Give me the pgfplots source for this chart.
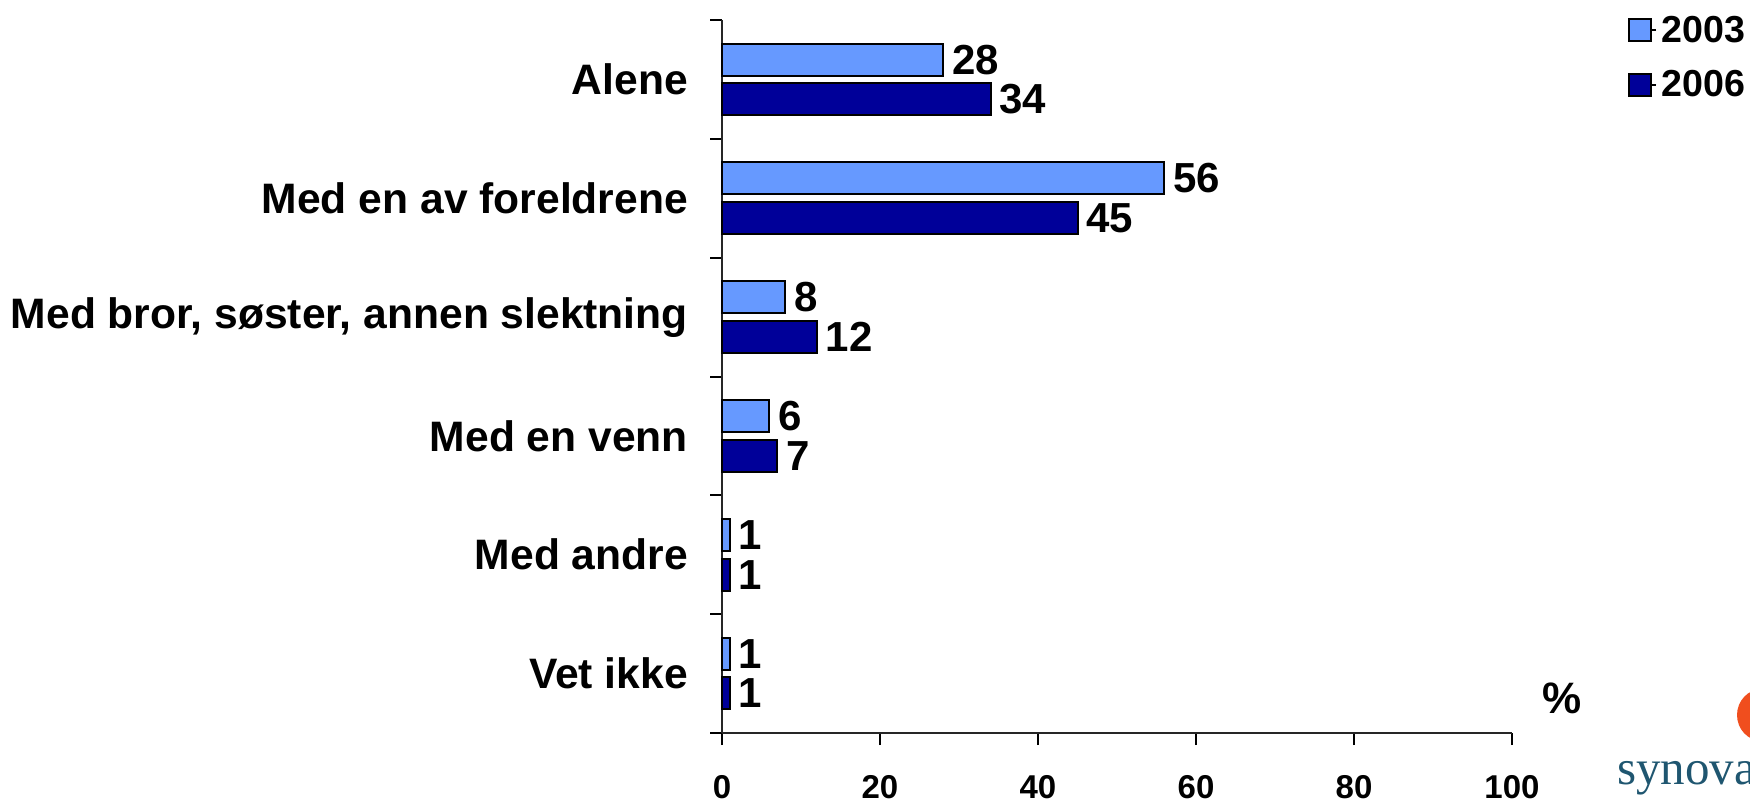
\documentclass[border=0pt]{standalone}
\usepackage{fontspec}
\setmainfont{Liberation Sans}
\newfontfamily\seriffont{Liberation Serif}
\usepackage{pgfplots}
\pgfplotsset{compat=1.18}
\definecolor{c03}{HTML}{6699FF}
\definecolor{c06}{HTML}{000099}
\definecolor{logoteal}{HTML}{1F5670}
\definecolor{logoorange}{HTML}{F04E1E}
\begin{document}
\begin{tikzpicture}
\useasboundingbox (0,0) rectangle (875pt,-402pt);
\begin{axis}[
 at={(361pt,-366.5pt)}, anchor=south west,
 scale only axis, width=395pt, height=356.5pt,
 xmin=0, xmax=100, ymin=0, ymax=6,
 axis x line*=bottom, axis y line*=left,
 axis line style={line width=1pt, black!85},
 xtick={0,20,...,100},
 ytick={0,...,6},
 y tick label as interval,
 yticklabels={Vet ikke, Med andre, Med en venn, {Med bror, søster, annen slektning}, Med en av foreldrene, Alene},
 tick align=outside,
 major tick length=6pt,
 tick style={line width=1pt, black},
 xticklabel style={font=\fontsize{16.5}{16.5}\selectfont\bfseries, inner sep=0pt, anchor=north, yshift=-14.8pt},
 yticklabel style={font=\fontsize{21.3}{21.3}\selectfont\bfseries, xshift=-7.5pt},
 /pgf/number format/assume math mode=true,
 xbar, bar width=16pt,
 nodes near coords,
 nodes near coords align=horizontal,
 every node near coord/.append style={font=\fontsize{21}{21}\selectfont\bfseries, anchor=west, inner xsep=4pt, inner ysep=0pt, black},
 legend style={at={(1.1468,1.012)}, anchor=north west, draw=none, fill=none, font=\fontsize{18.8}{18.8}\selectfont\bfseries, inner sep=0pt, row sep=8.5pt, cells={anchor=west}},
 clip=false,
]
\addplot[fill=c03, draw=black, line width=1pt, bar shift=9.9pt,
  legend image code/.code={\path (0pt,0pt) -- (13.5pt,0pt);\draw[draw=black,line width=1pt,fill=c03] (0pt,-5.5pt) rectangle (11pt,5.5pt);}]
  coordinates {(28,5.5) (56,4.5) (8,3.5) (6,2.5) (1,1.5) (1,0.5)};
\addplot[fill=c06, draw=black, line width=1pt, bar shift=-9.9pt,
  legend image code/.code={\path (0pt,0pt) -- (13.5pt,0pt);\draw[draw=black,line width=1pt,fill=c06] (0pt,-5.5pt) rectangle (11pt,5.5pt);}]
  coordinates {(34,5.5) (45,4.5) (12,3.5) (7,2.5) (1,1.5) (1,0.5)};
\legend{2003,2006}
\end{axis}
\node[font=\fontsize{22}{22}\selectfont\bfseries] at (781pt,-349pt) {\%};
\fill[logoorange] (881pt,-357.5pt) ellipse [x radius=12.5pt, y radius=13pt];
\node[anchor=base west, text=logoteal, font=\seriffont\fontsize{24.5}{24.5}\selectfont, inner sep=0pt] at (808.5pt,-392pt) {synovate};
\end{tikzpicture}
\end{document}
